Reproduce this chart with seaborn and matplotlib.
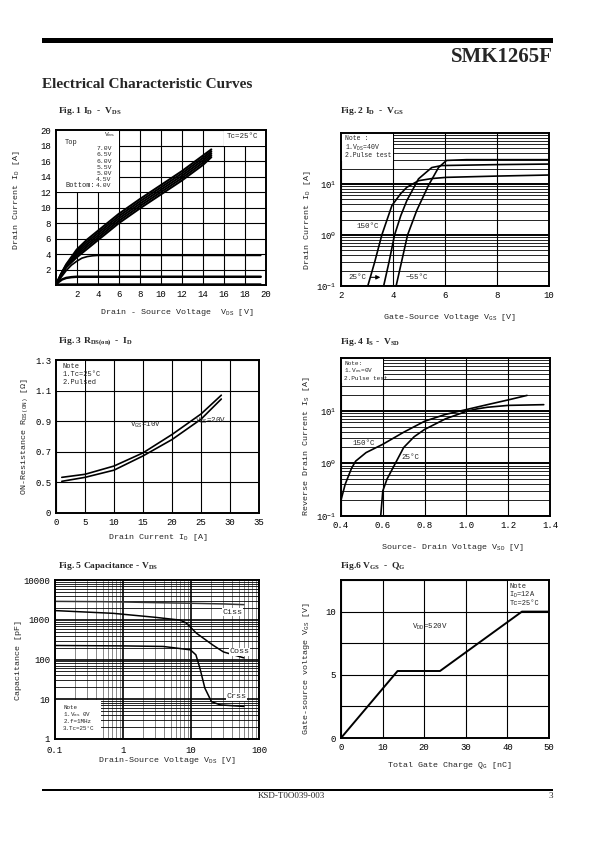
import numpy as np
import matplotlib
matplotlib.use("Agg")
import matplotlib.pyplot as plt
from matplotlib.ticker import MultipleLocator, LogLocator, NullFormatter
from matplotlib.patches import Rectangle
import seaborn as sns

# ---- Fig.1 ID - VDS ----
f1_vds = [0, 0.5, 1, 2, 3, 4, 6, 8, 10, 12, 14, 14.8]
f1_id_7v0 = [0, 1.45, 2.7, 4.6, 5.9, 7.0, 9.2, 11.1, 12.9, 14.7, 16.7, 17.5]
f1_id_6v5 = [0, 1.4, 2.6, 4.35, 5.6, 6.7, 8.9, 10.8, 12.6, 14.4, 16.4, 17.25]
f1_id_6v0 = [0, 1.35, 2.5, 4.1, 5.3, 6.4, 8.6, 10.5, 12.3, 14.1, 16.1, 17.0]
f1_id_5v5 = [0, 1.3, 2.4, 3.85, 5.0, 6.1, 8.3, 10.2, 12.0, 13.8, 15.8, 16.75]
f1_id_5v0 = [0, 1.25, 2.3, 3.6, 4.7, 5.8, 8.0, 9.9, 11.7, 13.5, 15.5, 16.5]
f1_vds_4v5 = [0, 0.5, 1, 1.5, 2, 2.5, 3, 3.5, 4, 19.5]
f1_id_4v5 = [0, 1.0, 1.9, 2.6, 3.1, 3.5, 3.7, 3.8, 3.85, 3.85]
f1_vds_4v0 = [0, 0.3, 0.6, 1.0, 1.5, 2.0, 19.5]
f1_id_4v0 = [0, 0.45, 0.75, 0.95, 1.05, 1.1, 1.1]
f1_vds_low = [0, 0.3, 0.6, 19.5]
f1_id_low = [0, 0.12, 0.15, 0.15]
f1_vgs_labels = ["7.0V", "6.5V", "6.0V", "5.5V", "5.0V", "4.5V", "4.0V"]

# ---- Fig.2 ID - VGS ----
f2_vgs_150 = [3.03, 3.3, 3.57, 3.96, 4.3, 4.53, 4.98, 5.5, 6.06, 8, 10]
f2_id_150 = [0.1, 0.3, 1.0, 3.8, 6.5, 8.6, 11.6, 12.8, 13.5, 14.3, 15]
f2_vgs_25 = [3.64, 3.85, 4.06, 4.3, 4.53, 4.98, 5.49, 5.87, 8, 10]
f2_id_25 = [0.1, 0.3, 1.0, 2.4, 4.7, 12.6, 21, 23, 24, 24.6]
f2_vgs_m55 = [4.12, 4.33, 4.56, 4.91, 5.36, 5.75, 6.06, 6.83, 10]
f2_id_m55 = [0.1, 0.3, 1.0, 3.0, 9.3, 21, 29, 30, 30]

# ---- Fig.3 RDS(on) - ID ----
f3_id = [1, 5, 10, 15, 20, 25, 28.5]
f3_r_10v = [0.533, 0.553, 0.607, 0.693, 0.813, 0.947, 1.07]
f3_r_20v = [0.507, 0.533, 0.58, 0.673, 0.78, 0.913, 1.045]
f3_yticks = [0, 0.5, 0.7, 0.9, 1.1, 1.3]

# ---- Fig.4 IS - VSD ----
f4_vsd_150 = [0.4, 0.42, 0.45, 0.47, 0.52, 0.6, 0.7, 0.8, 0.9, 1.0, 1.1, 1.2, 1.29]
f4_is_150 = [0.2, 0.4, 0.8, 1.1, 1.6, 2.3, 3.9, 6.3, 8.5, 10.5, 13, 16, 19.5]
f4_vsd_25 = [0.59, 0.6, 0.62, 0.66, 0.7, 0.75, 0.8, 0.9, 1.0, 1.05, 1.1, 1.2, 1.37]
f4_is_25 = [0.1, 0.3, 0.5, 1.0, 2.0, 3.2, 4.4, 7.0, 9.7, 10.8, 11.6, 12.6, 13.0]

# ---- Fig.5 Capacitance - VDS ----
f5_vds_ciss = [0.1, 0.5, 1, 5, 10, 30, 60]
f5_ciss = [2900, 2850, 2800, 2650, 2600, 2500, 2400]
f5_vds_coss = [0.1, 0.72, 3, 6.9, 8.5, 12, 21, 30, 60]
f5_coss = [1700, 1450, 1150, 980, 830, 460, 230, 155, 110]
f5_vds_crss = [0.1, 1, 3.9, 9.8, 11.8, 13.5, 16, 20, 27, 60]
f5_crss = [225, 220, 213, 175, 131, 61, 19, 8.7, 7.2, 6.6]

# ---- Fig.6 VGS - QG ----
f6_qg = [0, 13.6, 23.8, 43.5, 50]
f6_vgs = [0, 5.3, 5.3, 10, 10]

W, H = 595, 842

sns.set_theme(style="white")
plt.rcParams['font.family'] = ['Liberation Mono', 'DejaVu Sans']
plt.rcParams['mathtext.fontset'] = 'custom'
plt.rcParams['mathtext.rm'] = 'Liberation Mono'
plt.rcParams['mathtext.it'] = 'Liberation Mono'
plt.rcParams['mathtext.bf'] = 'Liberation Mono:bold'

SERIF = ['Liberation Serif', 'DejaVu Serif']
TICK_FS = 6.5
LABEL_FS = 6.0
NOTE_FS = 5.0


def px_rect(l, t, r, b):
    return [l / W, (H - b) / H, (r - l) / W, (b - t) / H]


def style_axes(ax):
    ax.set_axisbelow(True)
    ax.set_facecolor('white')
    for s in ax.spines.values():
        s.set_visible(True)
        s.set_color('black')
        s.set_linewidth(1.4)
    ax.tick_params(which='both', length=0, labelsize=TICK_FS, pad=3.5, colors='black')
    ax.set_xlabel('')
    ax.set_ylabel('')


def curve(ax, x, y, lw=1.2, color='black'):
    sns.lineplot(x=x, y=y, ax=ax, color=color, lw=lw, estimator=None, sort=False)


def note(ax, lines, x, ys, fs=NOTE_FS):
    for txt, y in zip(lines, ys):
        ax.text(x, y, txt, transform=ax.transAxes, fontsize=fs, va='center', ha='left', zorder=4)


def axis_labels(ax, xlabel, xpos, ylabel, ypos):
    ax.set_xlabel(xlabel, fontsize=LABEL_FS)
    ax.set_ylabel(ylabel, fontsize=LABEL_FS)
    ax.xaxis.set_label_coords(*xpos)
    ax.yaxis.set_label_coords(*ypos)


fig = plt.figure(figsize=(W / 100, H / 100), dpi=100)
fig.patch.set_facecolor('white')

# header / footer
fig.add_artist(Rectangle((42 / W, (H - 43) / H), 511 / W, 5 / H, transform=fig.transFigure,
                         facecolor='black', edgecolor='none'))
fig.text(553 / W, (H - 57) / H, "SMK1265F", family=SERIF, weight='bold', fontsize=15,
         ha='right', va='center')
fig.text(42 / W, (H - 84) / H, "Electrical Characteristic Curves", family=SERIF, weight='bold',
         fontsize=11, ha='left', va='center')
fig.add_artist(Rectangle((42 / W, (H - 791) / H), 511 / W, 2 / H, transform=fig.transFigure,
                         facecolor='black', edgecolor='none'))
fig.text(291 / W, (H - 796.5) / H, "KSD-T0O039-003", family=SERIF, fontsize=6.5, ha='center', va='center')
fig.text(553 / W, (H - 796.5) / H, "3", family=SERIF, fontsize=6.5, ha='right', va='center')

# figure titles
titles = [
    (58, 111, r"Fig. 1 I$_{\mathregular{D}}$  -  V$_{\mathregular{DS}}$"),
    (340, 111, r"Fig. 2 I$_{\mathregular{D}}$  -  V$_{\mathregular{GS}}$"),
    (58, 342, r"Fig. 3 R$_{\mathregular{DS(on)}}$  -  I$_{\mathregular{D}}$"),
    (340, 342, r"Fig. 4 I$_{\mathregular{S}}$ -  V$_{\mathregular{SD}}$"),
    (58, 566, r"Fig. 5 Capacitance - V$_{\mathregular{DS}}$"),
    (340, 566, r"Fig.6 V$_{\mathregular{GS}}$  -  Q$_{\mathregular{G}}$"),
]
for x, y, t in titles:
    fig.text(x / W, (H - y) / H, t, family=SERIF, weight='bold', fontsize=6.8, ha='left', va='center')

# ---------------- Fig 1 ----------------
ax1 = fig.add_axes(px_rect(55.7, 130, 266, 285.3))
ax1.set_xlim(0, 20)
ax1.set_ylim(0, 20)
ax1.set_xticks(range(2, 21, 2))
ax1.set_yticks(range(2, 21, 2))
ax1.grid(True, color='black', lw=0.8)
ax1.add_patch(Rectangle((0, 12), 6, 8, facecolor='white', edgecolor='none', zorder=1))
ax1.add_patch(Rectangle((16, 18), 4, 2, facecolor='white', edgecolor='none', zorder=1))
for ys in [f1_id_7v0, f1_id_6v5, f1_id_6v0, f1_id_5v5, f1_id_5v0]:
    curve(ax1, f1_vds, ys, lw=1.5)
curve(ax1, f1_vds_4v5, f1_id_4v5, lw=1.2)
curve(ax1, f1_vds_4v0, f1_id_4v0, lw=1.8)
curve(ax1, f1_vds_low, f1_id_low, lw=1.2)
style_axes(ax1)
ax1.text(4.6, 19.35, r"V$_{\mathregular{GS}}$", fontsize=NOTE_FS - 0.4, va='center', zorder=4)
ax1.text(0.9, 18.4, "Top", fontsize=NOTE_FS, va='center', zorder=4)
for i, lab in enumerate(f1_vgs_labels):
    ax1.text(3.85, 17.6 - 0.8 * i, lab, fontsize=NOTE_FS - 0.4, va='center', zorder=4)
ax1.text(0.9, 12.8, "Bottom:", fontsize=NOTE_FS, va='center', zorder=4)
ax1.text(16.3, 19.1, "Tc=25°C", fontsize=NOTE_FS + 0.4, va='center', zorder=4)
axis_labels(ax1, r"Drain - Source Voltage  V$_{\mathregular{DS}}$ [V]", (0.577, -0.14),
            r"Drain Current I$_{\mathregular{D}}$ [A]", (-0.16, 0.55))

# ---------------- Fig 2 ----------------
ax2 = fig.add_axes(px_rect(341, 133, 549, 286))
ax2.set_yscale('log')
ax2.set_xlim(2, 10)
ax2.set_ylim(0.1, 100)
ax2.set_xticks([2, 4, 6, 8, 10])
ax2.set_yticks([0.1, 1, 10], [r"$10^{-1}$", r"$10^{0}$", r"$10^{1}$"])
ax2.yaxis.set_minor_locator(LogLocator(base=10, subs=np.arange(2, 10), numticks=20))
ax2.yaxis.set_minor_formatter(NullFormatter())
ax2.grid(True, which='major', axis='x', color='black', lw=0.8)
ax2.grid(True, which='major', axis='y', color='black', lw=1.4)
ax2.grid(True, which='minor', axis='y', color='black', lw=0.6)
ax2.add_patch(Rectangle((2, 28), 2, 72, facecolor='white', edgecolor='none', zorder=1))
curve(ax2, f2_vgs_150, f2_id_150)
curve(ax2, f2_vgs_25, f2_id_25)
curve(ax2, f2_vgs_m55, f2_id_m55)
style_axes(ax2)
note(ax2, ["Note :", r"1.V$_{\mathregular{DS}}$=40V", "2.Pulse test"], 0.02, [0.965, 0.905, 0.85], fs=4.7)
ax2.text(2.6, 1.45, "150°C", fontsize=NOTE_FS + 0.4, va='center', zorder=4)
ax2.text(2.27, 0.148, "25°C", fontsize=NOTE_FS + 0.4, va='center', zorder=4)
ax2.annotate('', xy=(3.62, 0.148), xytext=(3.05, 0.148),
             arrowprops=dict(arrowstyle='-|>', color='black', lw=0.8, mutation_scale=6), zorder=4)
ax2.text(4.5, 0.148, "−55°C", fontsize=NOTE_FS + 0.4, va='center', zorder=4)
axis_labels(ax2, r"Gate-Source Voltage V$_{\mathregular{GS}}$ [V]", (0.524, -0.17),
            r"Drain Current I$_{\mathregular{D}}$ [A]", (-0.135, 0.43))

# ---------------- Fig 3 ----------------
def rds_fwd(y):
    y = np.asarray(y, dtype=float)
    return np.where(y <= 0.5, y / 0.5, 1 + (y - 0.5) / 0.2)


def rds_inv(v):
    v = np.asarray(v, dtype=float)
    return np.where(v <= 1, v * 0.5, 0.5 + (v - 1) * 0.2)


ax3 = fig.add_axes(px_rect(56, 360, 259, 513))
ax3.set_yscale('function', functions=(rds_fwd, rds_inv))
ax3.set_xlim(0, 35)
ax3.set_ylim(0, 1.3)
ax3.set_xticks(range(0, 36, 5))
ax3.set_yticks(f3_yticks, ["0", "0.5", "0.7", "0.9", "1.1", "1.3"])
ax3.grid(True, color='black', lw=0.8)
ax3.add_patch(Rectangle((0, 1.1), 5, 0.2, facecolor='white', edgecolor='none', zorder=1))
curve(ax3, f3_id, f3_r_10v)
curve(ax3, f3_id, f3_r_20v)
style_axes(ax3)
note(ax3, ["Note", "1.Tc=25°C", "2.Pulsed"], 0.034, [0.96, 0.905, 0.85])
ax3.text(12.8, 0.873, r"V$_{\mathregular{GS}}$=10V", fontsize=NOTE_FS + 0.4, va='center', zorder=4)
ax3.text(24.0, 0.9, r"V$_{\mathregular{GS}}$=20V", fontsize=NOTE_FS + 0.4, va='center', zorder=4)
axis_labels(ax3, r"Drain Current I$_{\mathregular{D}}$ [A]", (0.5, -0.124),
            r"ON-Resistance R$_{\mathregular{DS(ON)}}$ [Ω]", (-0.13, 0.5))

# ---------------- Fig 4 ----------------
ax4 = fig.add_axes(px_rect(341, 358, 550, 516))
ax4.set_yscale('log')
ax4.set_xlim(0.4, 1.4)
ax4.set_ylim(0.1, 100)
ax4.set_xticks([0.4, 0.6, 0.8, 1.0, 1.2, 1.4], ["0.4", "0.6", "0.8", "1.0", "1.2", "1.4"])
ax4.set_yticks([0.1, 1, 10], [r"$10^{-1}$", r"$10^{0}$", r"$10^{1}$"])
ax4.yaxis.set_minor_locator(LogLocator(base=10, subs=np.arange(2, 10), numticks=20))
ax4.yaxis.set_minor_formatter(NullFormatter())
ax4.grid(True, which='major', axis='x', color='black', lw=0.8)
ax4.grid(True, which='major', axis='y', color='black', lw=1.4)
ax4.grid(True, which='minor', axis='y', color='black', lw=0.6)
ax4.add_patch(Rectangle((0.4, 34), 0.2, 66, facecolor='white', edgecolor='none', zorder=1))
curve(ax4, f4_vsd_150, f4_is_150)
curve(ax4, f4_vsd_25, f4_is_25)
style_axes(ax4)
note(ax4, ["Note:", r"1.V$_{\mathregular{GS}}$=0V", "2.Pulse test"], 0.015, [0.968, 0.918, 0.868], fs=4.4)
ax4.text(0.457, 2.4, "150°C", fontsize=NOTE_FS + 0.4, va='center', zorder=4)
ax4.text(0.69, 1.3, "25°C", fontsize=NOTE_FS + 0.4, va='center', zorder=4)
axis_labels(ax4, r"Source- Drain Voltage V$_{\mathregular{SD}}$ [V]", (0.536, -0.165),
            r"Reverse Drain Current I$_{\mathregular{S}}$ [A]", (-0.139, 0.44))

# ---------------- Fig 5 ----------------
ax5 = fig.add_axes(px_rect(55, 580, 259, 739))
ax5.set_xscale('log')
ax5.set_yscale('log')
ax5.set_xlim(0.1, 100)
ax5.set_ylim(1, 10000)
ax5.set_xticks([0.1, 1, 10, 100], ["0.1", "1", "10", "100"])
ax5.set_yticks([1, 10, 100, 1000, 10000], ["1", "10", "100", "1000", "10000"])
for a in (ax5.xaxis, ax5.yaxis):
    a.set_minor_locator(LogLocator(base=10, subs=np.arange(2, 10), numticks=20))
    a.set_minor_formatter(NullFormatter())
ax5.grid(True, which='major', color='black', lw=1.2)
ax5.grid(True, which='minor', axis='y', color='black', lw=0.6)
ax5.grid(True, which='minor', axis='x', color='#777777', lw=0.6)
ax5.add_patch(Rectangle((0.1, 1), 0.38, 8.6, facecolor='white', edgecolor='none', zorder=1))
curve(ax5, f5_vds_ciss, f5_ciss, lw=1.1, color='#333333')
curve(ax5, f5_vds_coss, f5_coss, lw=1.1)
curve(ax5, f5_vds_crss, f5_crss, lw=1.1)
style_axes(ax5)
ax5.tick_params(axis='x', pad=5)
note(ax5, ["Note", r"1.V$_{\mathregular{GS}}$ 0V", "2.f=1MHz", "3.Tc=25°C"], 0.04,
     [0.2, 0.155, 0.11, 0.065], fs=4.2)
for txt, (x, y) in zip(["Ciss", "Coss", "Crss"], [(29, 1540), (37, 155), (33, 11.6)]):
    ax5.text(x, y, txt, fontsize=NOTE_FS + 1.0, va='center', zorder=4,
             bbox=dict(facecolor='white', edgecolor='none', pad=0.3))
axis_labels(ax5, r"Drain-Source Voltage V$_{\mathregular{DS}}$ [V]", (0.55, -0.10),
            "Capacitance [pF]", (-0.16, 0.5))

# ---------------- Fig 6 ----------------
ax6 = fig.add_axes(px_rect(341, 580, 549, 738))
ax6.set_xlim(0, 50)
ax6.set_ylim(0, 12.5)
ax6.set_xticks(range(0, 51, 10))
ax6.set_yticks([0, 5, 10])
ax6.yaxis.set_minor_locator(MultipleLocator(2.5))
ax6.grid(True, which='both', color='black', lw=0.8)
ax6.add_patch(Rectangle((40.2, 10.1), 9.8, 2.4, facecolor='white', edgecolor='none', zorder=1))
curve(ax6, f6_qg, f6_vgs, lw=1.4)
style_axes(ax6)
note(ax6, ["Note", r"I$_{\mathregular{D}}$=12A", "Tc=25°C"], 0.81, [0.958, 0.905, 0.852])
ax6.text(17, 8.8, r"V$_{\mathregular{DD}}$=520V", fontsize=NOTE_FS + 0.4, va='center', zorder=4)
axis_labels(ax6, r"Total Gate Charge Q$_{\mathregular{G}}$ [nC]", (0.52, -0.14),
            r"Gate-source voltage V$_{\mathregular{GS}}$ [V]", (-0.14, 0.44))

fig.savefig("out.png", dpi=100)
plt.close(fig)
